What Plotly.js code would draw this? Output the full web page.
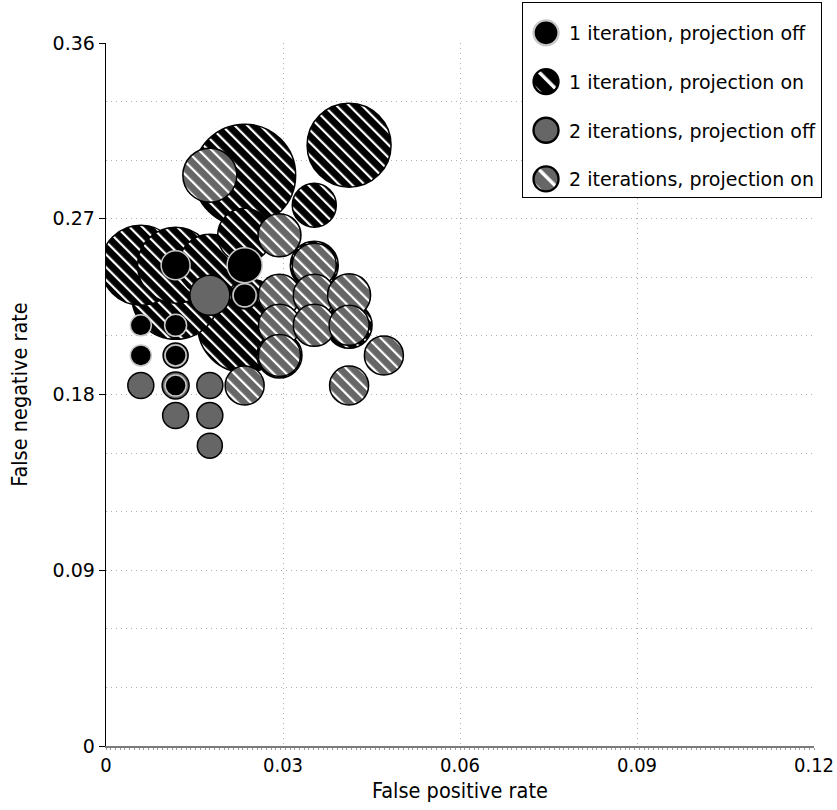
<!DOCTYPE html>
<html>
<head>
<meta charset="utf-8">
<script src="https://cdn.plot.ly/plotly-3.0.1.min.js"></script>
<style>
html,body{margin:0;padding:0;background:#fff;}
#chart{width:837px;height:810px;}
</style>
</head>
<body>
<div id="chart"></div>
<script>
// ---- data (false positive rate, false negative rate, bubble size) ----
const seriesNames = [
  "1 iteration, projection off",
  "1 iteration, projection on",
  "2 iterations, projection off",
  "2 iterations, projection on"
];

// 1 iteration, projection on (black, hatched)
const oneOnFPR  = [0.0235, 0.0235, 0.0118, 0.0412, 0.0059, 0.0118, 0.0176, 0.0235, 0.0353, 0.0412, 0.0294, 0.0353];
const oneOnFNR  = [0.2923, 0.2154, 0.2308, 0.3077, 0.2462, 0.2462, 0.2462, 0.2615, 0.2462, 0.2154, 0.2000, 0.2769];
const oneOnSize = [102, 94, 88, 84, 80, 76, 62, 54, 48, 46, 45, 44];

// 2 iterations, projection on (gray, hatched)
const twoOnFPR  = [0.0176, 0.0294, 0.0353, 0.0294, 0.0353, 0.0412, 0.0294, 0.0353, 0.0412, 0.0294, 0.0471, 0.0235, 0.0412];
const twoOnFNR  = [0.2923, 0.2615, 0.2462, 0.2308, 0.2308, 0.2308, 0.2154, 0.2154, 0.2154, 0.2000, 0.2000, 0.1846, 0.1846];
const twoOnSize = [54, 43, 44, 42, 42, 43, 42, 42, 40, 42, 39, 39, 39];

// 2 iterations, projection off (gray, solid)
const twoOffFPR  = [0.0176, 0.0235, 0.0059, 0.0118, 0.0118, 0.0118, 0.0176, 0.0176, 0.0176];
const twoOffFNR  = [0.2308, 0.2308, 0.1846, 0.1846, 0.2000, 0.1692, 0.1846, 0.1692, 0.1538];
const twoOffSize = [40, 27, 26, 27, 25, 26, 26, 26, 25];

// 1 iteration, projection off (black, solid)
const oneOffFPR  = [0.0118, 0.0235, 0.0235, 0.0059, 0.0118, 0.0059, 0.0118, 0.0118];
const oneOffFNR  = [0.2462, 0.2462, 0.2308, 0.2154, 0.2154, 0.2000, 0.2000, 0.1846];
const oneOffSize = [29, 35, 23, 21, 22, 21, 21, 21];

const xTickVals = [0, 0.03, 0.06, 0.09, 0.12];
const xTickText = ["0", "0.03", "0.06", "0.09", "0.12"];
const yTickVals = [0, 0.09, 0.18, 0.27, 0.36];
const yTickText = ["0", "0.09", "0.18", "0.27", "0.36"];

const GRAY = "#666666";

function bubbleTrace(x, y, s, name, color, lineColor, lineWidth, rank, hatchId) {
  return {
    type: "scatter", mode: "markers", x: x, y: y, name: name,
    legendrank: rank, legendgroup: "g" + rank,
    meta: hatchId || "",
    marker: {
      size: s, sizemode: "diameter", sizeref: 1, color: color, opacity: 1,
      line: {color: lineColor, width: lineWidth}
    },
    hoverinfo: "skip"
  };
}

const traces = [
  bubbleTrace(oneOnFPR, oneOnFNR, oneOnSize, seriesNames[1], "#000000", "#000000", 1.5, 2, "hatchBlack"),
  bubbleTrace(twoOnFPR, twoOnFNR, twoOnSize, seriesNames[3], GRAY, "#000000", 1.5, 4, "hatchGray"),
  bubbleTrace(twoOffFPR, twoOffFNR, twoOffSize, seriesNames[2], GRAY, "#000000", 1.5, 3, ""),
  bubbleTrace(oneOffFPR, oneOffFNR, oneOffSize, seriesNames[0], "#000000", "#c8c8c8", 1.5, 1, "")
];

const cond = "DejaVu Sans Condensed, DejaVu Sans, sans-serif";

const layout = {
  width: 837, height: 810,
  margin: {l: 106, r: 23, t: 43, b: 64, autoexpand: false},
  paper_bgcolor: "#ffffff", plot_bgcolor: "#ffffff",
  showlegend: true,
  legend: {
    x: 0.5876, xanchor: "left", y: 1.058, yanchor: "top",
    bgcolor: "#ffffff", bordercolor: "#000000", borderwidth: 1,
    font: {family: "DejaVu Sans, sans-serif", size: 19, color: "#000"},
    traceorder: "grouped", tracegroupgap: 21, itemwidth: 36
  },
  xaxis: {
    range: [0, 0.12], tickvals: xTickVals, ticktext: xTickText,
    showgrid: true, gridcolor: "#b0b0b0", griddash: "1px,4px", gridwidth: 1,
    zeroline: false, showline: true, linecolor: "#7a7a7a", linewidth: 1.5,
    ticks: "", tickfont: {family: cond, size: 20, color: "#000"},
    minor: {dtick: 0.0008, ticks: "outside", ticklen: 2, tickcolor: "#999", tickwidth: 1, showgrid: false},
    title: {text: "False positive rate", font: {family: cond, size: 21.5, color: "#000"}, standoff: 7},
    fixedrange: true
  },
  yaxis: {
    range: [0, 0.36], tickvals: yTickVals, ticktext: yTickText,
    showgrid: true, gridcolor: "#b0b0b0", griddash: "1px,4px", gridwidth: 1,
    minor: {dtick: 0.03, showgrid: true, gridcolor: "#b0b0b0", griddash: "1px,4px", gridwidth: 1, ticks: ""},
    zeroline: false, showline: true, linecolor: "#000000", linewidth: 1.3,
    ticks: "outside", ticklen: 6, tickcolor: "#000", tickwidth: 1,
    tickfont: {family: "DejaVu Sans, sans-serif", size: 19, color: "#000"},
    title: {text: "False negative rate", font: {family: cond, size: 21.5, color: "#000"}, standoff: 19},
    fixedrange: true
  }
};

const NS = "http://www.w3.org/2000/svg";
function makePattern(defs, id, bg) {
  const p = document.createElementNS(NS, "pattern");
  p.setAttribute("id", id);
  p.setAttribute("patternUnits", "userSpaceOnUse");
  p.setAttribute("width", "9");
  p.setAttribute("height", "9");
  p.setAttribute("patternTransform", "rotate(-45)");
  const r1 = document.createElementNS(NS, "rect");
  r1.setAttribute("width", "9"); r1.setAttribute("height", "9"); r1.setAttribute("fill", bg);
  const r2 = document.createElementNS(NS, "rect");
  r2.setAttribute("x", "0"); r2.setAttribute("width", "2.2"); r2.setAttribute("height", "9"); r2.setAttribute("fill", "#ffffff");
  p.appendChild(r1); p.appendChild(r2);
  defs.appendChild(p);
}

const gd = document.getElementById("chart");
Plotly.newPlot(gd, traces, layout, {displayModeBar: false, staticPlot: true}).then(function () {
  const svg = gd.querySelector("svg.main-svg");
  let defs = svg.querySelector("defs");
  if (!defs) { defs = document.createElementNS(NS, "defs"); svg.insertBefore(defs, svg.firstChild); }
  makePattern(defs, "hatchBlack", "#000000");
  makePattern(defs, "hatchGray", GRAY);

  const traceGroups = gd.querySelectorAll(".scatterlayer .trace");
  traceGroups.forEach(function (g, i) {
    const hid = traces[i].meta;
    if (!hid) return;
    g.querySelectorAll("path.point").forEach(function (p) { p.style.fill = "url(#" + hid + ")"; });
  });

  gd.querySelectorAll(".legend .traces").forEach(function (g) {
    const txt = g.querySelector(".legendtext").textContent;
    const tr = traces.find(function (t) { return t.name === txt; });
    const pt = g.querySelector(".legendpoints path.scatterpts");
    if (!pt || !tr) return;
    if (tr.meta) pt.style.fill = "url(#" + tr.meta + ")";
    const bb = pt.getBBox();
    const s = 25 / Math.max(bb.width, 1);
    const t0 = pt.getAttribute("transform") || "";
    pt.setAttribute("transform", t0 + " scale(" + s + ")");
  });

  // legend box: add some top padding like the reference
  try {
    const leg = gd.querySelector("g.legend");
    const EXTRA = 10, SHIFT = 11;
    const tf = leg.getAttribute("transform") || "";
    const m = tf.match(/translate\(\s*([-\d.]+)[ ,]+([-\d.]+)\s*\)/);
    if (m) leg.setAttribute("transform", "translate(" + m[1] + ",2)");
    const bg = leg.querySelector("rect.bg");
    const h = parseFloat(bg.getAttribute("height"));
    bg.setAttribute("height", h + EXTRA);
    const sb = leg.querySelector("g.scrollbox");
    const cp = sb.getAttribute("clip-path");
    if (cp) {
      const idm = cp.match(/#([^)'"]+)/);
      const cpEl = idm ? document.getElementById(idm[1]) : null;
      const cr = cpEl ? cpEl.querySelector("rect") : null;
      if (cr) cr.setAttribute("height", parseFloat(cr.getAttribute("height")) + EXTRA + SHIFT);
    }
    const groupsList = sb.querySelectorAll("g.groups");
    groupsList.forEach(function (groups) {
      const gt = groups.getAttribute("transform") || "";
      groups.setAttribute("transform", "translate(0," + SHIFT + ") " + gt);
    });
  } catch (e) {}
});
</script>
</body>
</html>
